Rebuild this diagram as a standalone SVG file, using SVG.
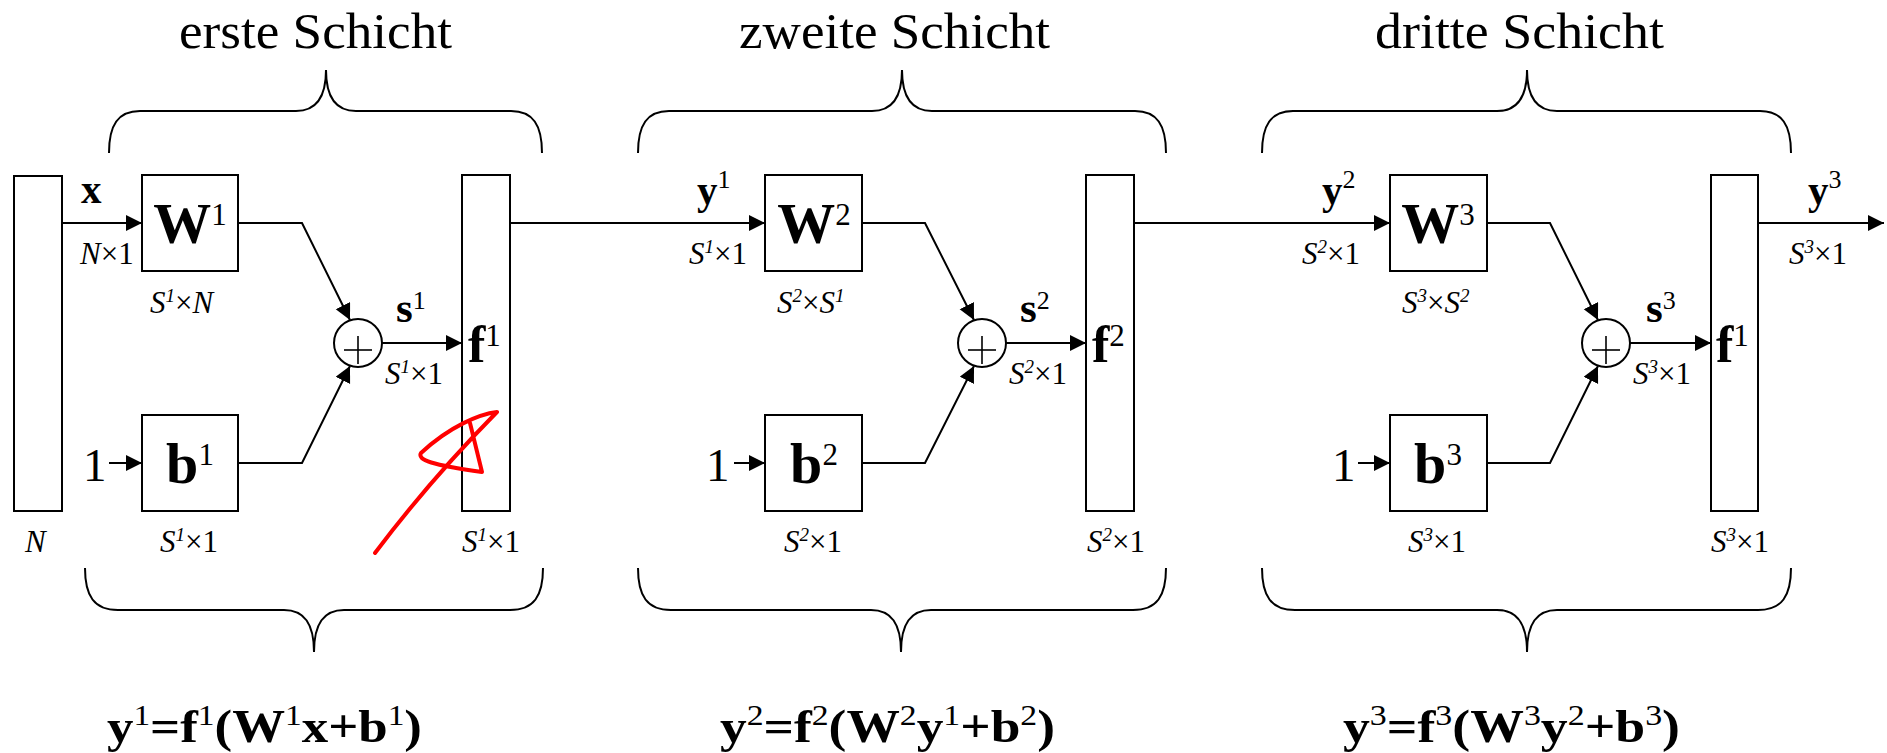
<svg xmlns="http://www.w3.org/2000/svg" width="1887" height="753" viewBox="0 0 1887 753">
<style>
text{font-family:"Liberation Serif","Times New Roman",serif;fill:#000}
.box{fill:#fff;stroke:#000;stroke-width:2}
.ln{fill:none;stroke:#000;stroke-width:2}
.br{fill:none;stroke:#000;stroke-width:2}
.it{font-style:italic;font-size:31px}
.up{font-style:normal}
.sm{font-size:19px}
.big{font-size:58px;font-weight:bold}
.fb{font-size:52px;font-weight:bold}
.mid{font-size:41px;font-weight:bold}
.sb{font-size:43px;font-weight:bold}
.sp{font-size:31px;font-weight:normal}
.sp2{font-size:26px;font-weight:normal}
.one{font-size:47px}
.title{font-size:50px}
.eq{font-size:46px;font-weight:bold}
.eqs{font-size:29px;font-weight:normal}
.plus{stroke:#000;stroke-width:1.6}
</style>
<defs>
<marker id="ah" markerUnits="userSpaceOnUse" markerWidth="17" markerHeight="17" refX="16" refY="8" orient="auto">
<path d="M0,0 L16,8 L0,16 Z" fill="#000"/>
</marker>
</defs>

<g id="titles">
<text class="title" x="179" y="48" textLength="273" lengthAdjust="spacingAndGlyphs">erste Schicht</text>
<text class="title" x="739" y="48" textLength="311" lengthAdjust="spacingAndGlyphs">zweite Schicht</text>
<text class="title" x="1375" y="48" textLength="289" lengthAdjust="spacingAndGlyphs">dritte Schicht</text>
</g>

<g id="braces">
<path class="br" d="M109,153 C109,125 118,111 140,111 L296,111 C316,111 326,98 326,70 C326,98 336,111 356,111 L511,111 C533,111 542,125 542,153"/>
<path class="br" d="M638,153 C638,125 647,111 669,111 L872,111 C892,111 902,98 902,70 C902,98 912,111 932,111 L1135,111 C1157,111 1166,125 1166,153"/>
<path class="br" d="M1262,153 C1262,125 1271,111 1293,111 L1497,111 C1517,111 1527,98 1527,70 C1527,98 1537,111 1557,111 L1760,111 C1782,111 1791,125 1791,153"/>
<path class="br" d="M85,568 C85,596 94,610 118,610 L284,610 C304,610 314,623 314,652 C314,623 324,610 344,610 L510,610 C534,610 543,596 543,568"/>
<path class="br" d="M638,568 C638,596 647,610 671,610 L871,610 C891,610 901,623 901,652 C901,623 911,610 931,610 L1133,610 C1157,610 1166,596 1166,568"/>
<path class="br" d="M1262,568 C1262,596 1271,610 1295,610 L1497,610 C1517,610 1527,623 1527,652 C1527,623 1537,610 1557,610 L1758,610 C1782,610 1791,596 1791,568"/>
</g>

<g id="connectors">
<line class="ln" x1="62" y1="223" x2="142" y2="223" marker-end="url(#ah)"/>
<polyline class="ln" points="238,223 302,223 350,320" marker-end="url(#ah)"/>
<polyline class="ln" points="238,463 302,463 350,366" marker-end="url(#ah)"/>
<line class="ln" x1="109" y1="463" x2="142" y2="463" marker-end="url(#ah)"/>
<line class="ln" x1="382" y1="343" x2="462" y2="343" marker-end="url(#ah)"/>
<line class="ln" x1="510" y1="223" x2="765" y2="223" marker-end="url(#ah)"/>
<polyline class="ln" points="862,223 925,223 974,320" marker-end="url(#ah)"/>
<polyline class="ln" points="862,463 925,463 974,366" marker-end="url(#ah)"/>
<line class="ln" x1="734" y1="463" x2="765" y2="463" marker-end="url(#ah)"/>
<line class="ln" x1="1006" y1="343" x2="1086" y2="343" marker-end="url(#ah)"/>
<line class="ln" x1="1134" y1="223" x2="1390" y2="223" marker-end="url(#ah)"/>
<polyline class="ln" points="1487,223 1550,223 1598,320" marker-end="url(#ah)"/>
<polyline class="ln" points="1487,463 1550,463 1598,366" marker-end="url(#ah)"/>
<line class="ln" x1="1358" y1="463" x2="1390" y2="463" marker-end="url(#ah)"/>
<line class="ln" x1="1630" y1="343" x2="1711" y2="343" marker-end="url(#ah)"/>
<line class="ln" x1="1758" y1="223" x2="1884" y2="223" marker-end="url(#ah)"/>
</g>

<g id="connector-labels">
<text class="mid" x="81" y="203">x</text>
<text class="it" x="80" y="264">N<tspan class="up">×1</tspan></text>
<text class="sb" x="396" y="322">s<tspan class="sp2" dy="-13">1</tspan></text>
<text class="it" x="385" y="384">S<tspan class="sm" dy="-11">1</tspan><tspan class="up" dy="11">×1</tspan></text>

<text class="mid" x="697" y="204">y<tspan class="sp2" dy="-16">1</tspan></text>
<text class="it" x="689" y="264">S<tspan class="sm" dy="-11">1</tspan><tspan class="up" dy="11">×1</tspan></text>
<text class="sb" x="1020" y="322">s<tspan class="sp2" dy="-13">2</tspan></text>
<text class="it" x="1009" y="384">S<tspan class="sm" dy="-11">2</tspan><tspan class="up" dy="11">×1</tspan></text>

<text class="mid" x="1322" y="204">y<tspan class="sp2" dy="-16">2</tspan></text>
<text class="it" x="1302" y="264">S<tspan class="sm" dy="-11">2</tspan><tspan class="up" dy="11">×1</tspan></text>
<text class="sb" x="1646" y="322">s<tspan class="sp2" dy="-13">3</tspan></text>
<text class="it" x="1633" y="384">S<tspan class="sm" dy="-11">3</tspan><tspan class="up" dy="11">×1</tspan></text>

<text class="mid" x="1808" y="204">y<tspan class="sp2" dy="-16">3</tspan></text>
<text class="it" x="1789" y="264">S<tspan class="sm" dy="-11">3</tspan><tspan class="up" dy="11">×1</tspan></text>
</g>

<g id="input-N">
<rect class="box" x="14" y="176" width="48" height="335"/>
<text class="it" x="25" y="552">N</text>
</g>

<g id="W1">
<rect class="box" x="142" y="175" width="96" height="96"/>
<text class="big" x="190" y="243" text-anchor="middle">W<tspan class="sp" dy="-18">1</tspan></text>
<text class="it" x="150" y="313">S<tspan class="sm" dy="-11">1</tspan><tspan class="up" dy="11">×</tspan>N</text>
</g>
<g id="bias-in-1"><text class="one" x="83" y="481">1</text></g>
<g id="b1">
<rect class="box" x="142" y="415" width="96" height="96"/>
<text class="big" x="190" y="483" text-anchor="middle">b<tspan class="sp" dy="-18">1</tspan></text>
<text class="it" x="160" y="552">S<tspan class="sm" dy="-11">1</tspan><tspan class="up" dy="11">×1</tspan></text>
</g>
<g id="sum1">
<circle class="box" cx="358" cy="343" r="24"/>
<line class="plus" x1="344" y1="350" x2="372" y2="350"/>
<line class="plus" x1="358" y1="336" x2="358" y2="364"/>
</g>
<g id="f1">
<rect class="box" x="462" y="175" width="48" height="336"/>
<text class="fb" x="468" y="362">f<tspan class="sp" dy="-16">1</tspan></text>
<text class="it" x="462" y="552">S<tspan class="sm" dy="-11">1</tspan><tspan class="up" dy="11">×1</tspan></text>
</g>

<g id="W2">
<rect class="box" x="765" y="175" width="97" height="96"/>
<text class="big" x="814" y="243" text-anchor="middle">W<tspan class="sp" dy="-18">2</tspan></text>
<text class="it" x="777" y="313">S<tspan class="sm" dy="-11">2</tspan><tspan class="up" dy="11">×</tspan>S<tspan class="sm" dy="-11">1</tspan></text>
</g>
<g id="bias-in-2"><text class="one" x="706" y="481">1</text></g>
<g id="b2">
<rect class="box" x="765" y="415" width="97" height="96"/>
<text class="big" x="814" y="483" text-anchor="middle">b<tspan class="sp" dy="-18">2</tspan></text>
<text class="it" x="784" y="552">S<tspan class="sm" dy="-11">2</tspan><tspan class="up" dy="11">×1</tspan></text>
</g>
<g id="sum2">
<circle class="box" cx="982" cy="343" r="24"/>
<line class="plus" x1="968" y1="350" x2="996" y2="350"/>
<line class="plus" x1="982" y1="336" x2="982" y2="364"/>
</g>
<g id="f2">
<rect class="box" x="1086" y="175" width="48" height="336"/>
<text class="fb" x="1092" y="362">f<tspan class="sp" dy="-16">2</tspan></text>
<text class="it" x="1087" y="552">S<tspan class="sm" dy="-11">2</tspan><tspan class="up" dy="11">×1</tspan></text>
</g>

<g id="W3">
<rect class="box" x="1390" y="175" width="97" height="96"/>
<text class="big" x="1438" y="243" text-anchor="middle">W<tspan class="sp" dy="-18">3</tspan></text>
<text class="it" x="1402" y="313">S<tspan class="sm" dy="-11">3</tspan><tspan class="up" dy="11">×</tspan>S<tspan class="sm" dy="-11">2</tspan></text>
</g>
<g id="bias-in-3"><text class="one" x="1332" y="481">1</text></g>
<g id="b3">
<rect class="box" x="1390" y="415" width="97" height="96"/>
<text class="big" x="1438" y="483" text-anchor="middle">b<tspan class="sp" dy="-18">3</tspan></text>
<text class="it" x="1408" y="552">S<tspan class="sm" dy="-11">3</tspan><tspan class="up" dy="11">×1</tspan></text>
</g>
<g id="sum3">
<circle class="box" cx="1606" cy="343" r="24"/>
<line class="plus" x1="1592" y1="350" x2="1620" y2="350"/>
<line class="plus" x1="1606" y1="336" x2="1606" y2="364"/>
</g>
<g id="f3">
<rect class="box" x="1711" y="175" width="47" height="336"/>
<text class="fb" x="1716" y="362">f<tspan class="sp" dy="-16">1</tspan></text>
<text class="it" x="1711" y="552">S<tspan class="sm" dy="-11">3</tspan><tspan class="up" dy="11">×1</tspan></text>
</g>

<g id="equations">
<text class="eq" x="107" y="742" textLength="315" lengthAdjust="spacingAndGlyphs">y<tspan class="eqs" dy="-17">1</tspan><tspan dy="17">=f</tspan><tspan class="eqs" dy="-17">1</tspan><tspan dy="17">(W</tspan><tspan class="eqs" dy="-17">1</tspan><tspan dy="17">x+b</tspan><tspan class="eqs" dy="-17">1</tspan><tspan dy="17">)</tspan></text>
<text class="eq" x="720" y="742" textLength="335" lengthAdjust="spacingAndGlyphs">y<tspan class="eqs" dy="-17">2</tspan><tspan dy="17">=f</tspan><tspan class="eqs" dy="-17">2</tspan><tspan dy="17">(W</tspan><tspan class="eqs" dy="-17">2</tspan><tspan dy="17">y</tspan><tspan class="eqs" dy="-17">1</tspan><tspan dy="17">+b</tspan><tspan class="eqs" dy="-17">2</tspan><tspan dy="17">)</tspan></text>
<text class="eq" x="1343" y="742" textLength="337" lengthAdjust="spacingAndGlyphs">y<tspan class="eqs" dy="-17">3</tspan><tspan dy="17">=f</tspan><tspan class="eqs" dy="-17">3</tspan><tspan dy="17">(W</tspan><tspan class="eqs" dy="-17">3</tspan><tspan dy="17">y</tspan><tspan class="eqs" dy="-17">2</tspan><tspan dy="17">+b</tspan><tspan class="eqs" dy="-17">3</tspan><tspan dy="17">)</tspan></text>
</g>

<g id="annotation">
<path d="M375,553 Q430,480 497,412 C480,414 450,426 421,453 C417,460 432,465 482,472 L470,423" fill="none" stroke="#ff0000" stroke-width="4" stroke-linecap="round" stroke-linejoin="round"/>
</g>
</svg>
